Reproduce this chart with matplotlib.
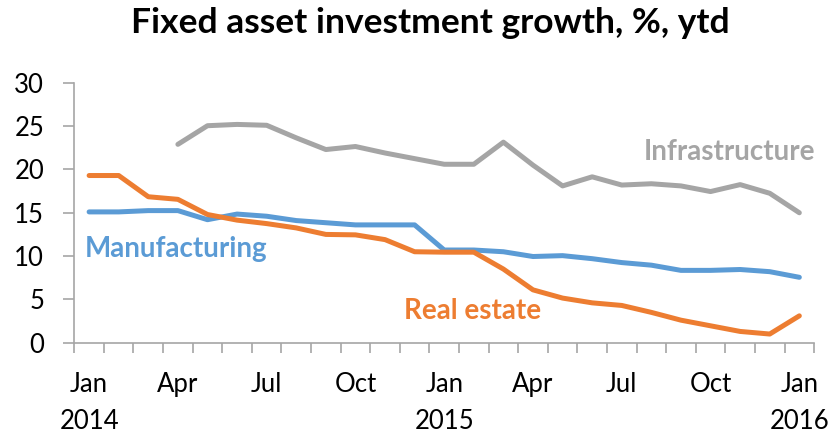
import numpy as np
import matplotlib.pyplot as plt

# monthly, Jan 2014 .. Jan 2016 (25 points)
months = ["Jan", "Feb", "Mar", "Apr", "May", "Jun", "Jul", "Aug", "Sep", "Oct", "Nov", "Dec"] * 2 + ["Jan"]
years = {0: "2014", 12: "2015", 24: "2016"}

manufacturing = [15.1, 15.1, 15.25, 15.25, 14.2, 14.85, 14.6, 14.1, 13.85, 13.6, 13.6, 13.6,
                 10.7, 10.7, 10.5, 9.95, 10.05, 9.7, 9.25, 8.95, 8.35, 8.35, 8.45, 8.2, 7.55]
real_estate = [19.3, 19.3, 16.85, 16.55, 14.8, 14.15, 13.75, 13.25, 12.5, 12.45, 11.9, 10.5,
               10.45, 10.45, 8.5, 6.1, 5.15, 4.6, 4.3, 3.5, 2.6, 1.95, 1.3, 1.0, 3.1]
infrastructure = [np.nan, np.nan, np.nan, 22.9, 25.05, 25.2, 25.1, 23.65, 22.3, 22.65, 21.9, 21.25,
                  20.6, 20.6, 23.15, 20.5, 18.1, 19.15, 18.2, 18.35, 18.1, 17.45, 18.25, 17.25, 15.0]

c_man = "#5B9BD5"
c_re = "#ED7D31"
c_inf = "#A5A5A5"
axis_grey = "#A6A6A6"

plt.rcParams["font.family"] = ["Lato", "DejaVu Sans"]

fig = plt.figure(figsize=(8.35, 4.36), dpi=100)
ax = fig.add_axes([0.089, 0.214, 0.886, 0.596])

x = np.arange(len(months))
ax.plot(x, infrastructure, color=c_inf, lw=3.6, solid_capstyle="round", solid_joinstyle="round")
ax.plot(x, manufacturing, color=c_man, lw=3.6, solid_capstyle="round", solid_joinstyle="round")
ax.plot(x, real_estate, color=c_re, lw=3.6, solid_capstyle="round", solid_joinstyle="round")

ax.set_xlim(-0.5, len(months) - 0.5)
ax.set_ylim(0, 30)
ax.set_yticks(np.arange(0, 31, 5))

# category boundaries get the tick marks, labels every quarter
ax.set_xticks(np.arange(-0.5, len(months), 1), minor=True)
lab_pos = [i for i in x if months[i] in ("Jan", "Apr", "Jul", "Oct")]
labels = [months[i] + ("\n" + years[i] if i in years else "") for i in lab_pos]
ax.set_xticks(lab_pos)
ax.set_xticklabels(labels, linespacing=1.62)

ax.tick_params(axis="x", which="major", length=0, pad=21, labelsize=18.5)
ax.tick_params(axis="x", which="minor", length=7.5, width=1.2, color=axis_grey, direction="out")
ax.tick_params(axis="y", length=7.7, width=1.2, color=axis_grey, pad=14, labelsize=18.5)

for s in ["top", "right"]:
    ax.spines[s].set_visible(False)
for s in ["left", "bottom"]:
    ax.spines[s].set_color(axis_grey)
    ax.spines[s].set_linewidth(1.2)

fig.text(0.515, 0.948, "Fixed asset investment growth, %, ytd", ha="center", va="center",
         fontsize=25.5, fontweight="bold")

ax.text(2.95, 10.8, "Manufacturing", color=c_man, fontsize=20, fontweight="bold", ha="center", va="center")
ax.text(12.95, 3.65, "Real estate", color=c_re, fontsize=20, fontweight="bold", ha="center", va="center")
ax.text(21.65, 22.0, "Infrastructure", color=c_inf, fontsize=20, fontweight="bold", ha="center", va="center")

fig.savefig("out.png", dpi=100)
